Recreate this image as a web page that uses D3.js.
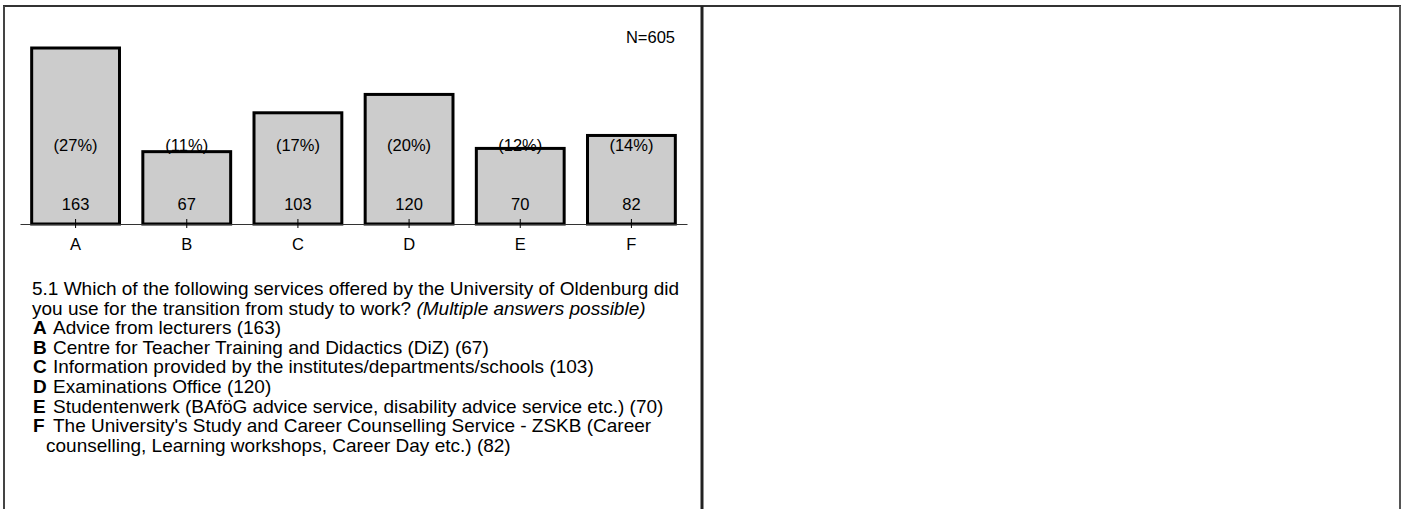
<!DOCTYPE html>
<html><head><meta charset="utf-8">
<script src="https://cdn.jsdelivr.net/npm/d3@7/dist/d3.min.js"></script>
<style>
body{margin:0;background:#fff}
svg{display:block}
text{font-family:"Liberation Sans",Arial,sans-serif;font-size:16.5px;fill:#000}
.desc text{font-size:19px}
</style>
</head><body>
<script>
const categories = ["A","B","C","D","E","F"];
const counts = [163, 67, 103, 120, 70, 82];
const totalN = 605;
const questionLine1 = "5.1 Which of the following services offered by the University of Oldenburg did";
const questionLine2 = "you use for the transition from study to work? ";
const questionNote = "(Multiple answers possible)";
const answerTexts = [
  ["Advice from lecturers (163)"],
  ["Centre for Teacher Training and Didactics (DiZ) (67)"],
  ["Information provided by the institutes/departments/schools (103)"],
  ["Examinations Office (120)"],
  ["Studentenwerk (BAföG advice service, disability advice service etc.) (70)"],
  ["The University's Study and Career Counselling Service - ZSKB (Career", "counselling, Learning workshops, Career Day etc.) (82)"]
];

const W = 1404, H = 509;
const svg = d3.select("body").append("svg").attr("width", W).attr("height", H);

// panel frames
const frame = svg.append("g").attr("fill", "none");
frame.append("line").attr("x1", 3).attr("x2", 1401).attr("y1", 6).attr("y2", 6)
  .attr("stroke", "#333").attr("stroke-width", 2);
frame.append("line").attr("x1", 4).attr("x2", 4).attr("y1", 6).attr("y2", H)
  .attr("stroke", "#444").attr("stroke-width", 2);
frame.append("line").attr("x1", 702).attr("x2", 702).attr("y1", 6).attr("y2", H)
  .attr("stroke", "#222").attr("stroke-width", 3);
frame.append("line").attr("x1", 1400).attr("x2", 1400).attr("y1", 6).attr("y2", H)
  .attr("stroke", "#555").attr("stroke-width", 2);

const x = d3.scaleBand().domain(categories).range([20, 687]).paddingInner(0.21).paddingOuter(0.105);
const y = d3.scaleLinear().domain([0, d3.max(counts)]).range([224, 48]);

const data = categories.map((c, i) => ({cat: c, v: counts[i]}));

svg.append("g").selectAll("rect").data(data).join("rect")
  .attr("x", d => x(d.cat)).attr("width", x.bandwidth())
  .attr("y", d => y(d.v)).attr("height", d => y(0) - y(d.v))
  .attr("fill", "#cccccc").attr("stroke", "#000").attr("stroke-width", 3);

// axis
const axisG = svg.append("g").attr("transform", "translate(0,224)");
axisG.call(d3.axisBottom(x).tickSize(4).tickSizeOuter(0).tickPadding(10));
axisG.select(".domain").attr("stroke", "#333").attr("stroke-width", 1.2);
axisG.selectAll(".tick line").attr("y1", -5).attr("y2", 4).attr("stroke", "#000");
axisG.selectAll(".tick text").attr("font-size", 16.5).attr("font-family", "Liberation Sans, Arial, sans-serif").attr("fill", "#000");

const lab = svg.append("g").attr("text-anchor", "middle");
lab.selectAll(".pct").data(data).join("text").attr("class", "pct")
  .attr("x", d => x(d.cat) + x.bandwidth() / 2).attr("y", 151)
  .text(d => "(" + Math.round(d.v / totalN * 100) + "%)");
lab.selectAll(".cnt").data(data).join("text").attr("class", "cnt")
  .attr("x", d => x(d.cat) + x.bandwidth() / 2).attr("y", 210)
  .text(d => d.v);

svg.append("text").attr("x", 675).attr("y", 43).attr("text-anchor", "end").text("N=" + totalN);

// description
const desc = svg.append("g").attr("class", "desc");
const lh = 19.6;
let yy = 295;
desc.append("text").attr("x", 32).attr("y", yy).text(questionLine1);
yy += lh;
const t2 = desc.append("text").attr("x", 32).attr("y", yy);
t2.append("tspan").text(questionLine2);
t2.append("tspan").attr("font-style", "italic").text(questionNote);
answerTexts.forEach((lines, i) => {
  yy += lh;
  desc.append("text").attr("x", 33).attr("y", yy).attr("font-weight", "bold").text(categories[i]);
  desc.append("text").attr("x", 53).attr("y", yy).text(lines[0]);
  for (let k = 1; k < lines.length; k++) {
    yy += lh;
    desc.append("text").attr("x", 46).attr("y", yy).text(lines[k]);
  }
});
</script>
</body></html>
